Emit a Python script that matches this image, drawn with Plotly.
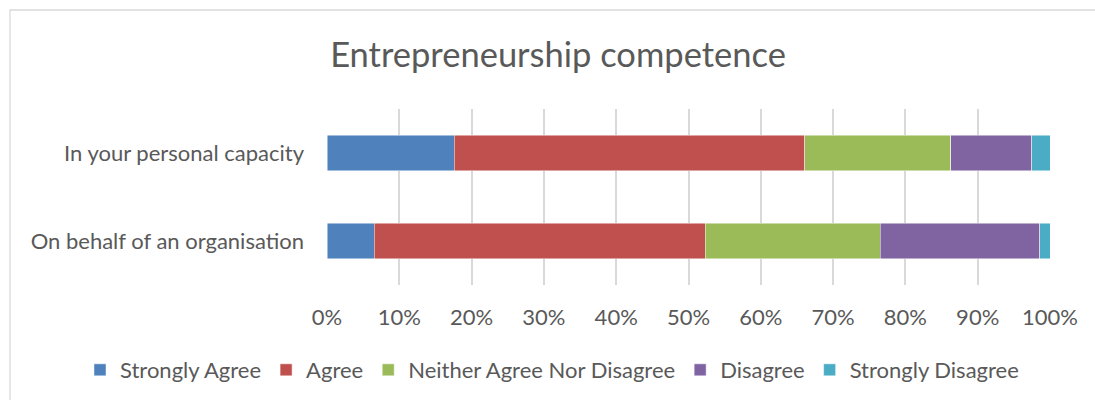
import plotly.graph_objects as go

# Survey responses (share of respondents, %)
categories = ["In your personal capacity", "On behalf of an organisation"]
series_names = ["Strongly Agree", "Agree", "Neither Agree Nor Disagree", "Disagree", "Strongly Disagree"]
strongly_agree = [17.6, 6.5]
agree = [48.5, 45.8]
neither = [20.2, 24.2]
disagree = [11.2, 22.1]
strongly_disagree = [2.5, 1.4]
tick_values = [0, 10, 20, 30, 40, 50, 60, 70, 80, 90, 100]
tick_labels = ["0%", "10%", "20%", "30%", "40%", "50%", "60%", "70%", "80%", "90%", "100%"]

series_values = [strongly_agree, agree, neither, disagree, strongly_disagree]
colors = ["#4F81BD", "#C0504D", "#9BBB59", "#8064A2", "#4BACC6"]

FONT = "Lato, 'Open Sans', sans-serif"
W, H = 1095, 400
ML, MR, MT, MB = 327, 45, 109, 115

fig = go.Figure()
for name, vals, col in zip(series_names, series_values, colors):
    fig.add_trace(go.Bar(
        y=categories,
        x=vals,
        name=name,
        orientation="h",
        marker=dict(color=col, line=dict(color="rgba(255,255,255,0.6)", width=0.8)),
    ))

pw = W - ML - MR
ph = H - MT - MB
# light chart-area frame (top and left edges visible)
fig.add_shape(type="rect", xref="paper", yref="paper",
              x0=(10 - ML) / pw, x1=1.3, y0=-1.0, y1=(H - MB - 10) / ph,
              line=dict(color="#d9d9d9", width=1.3), fillcolor="rgba(0,0,0,0)", layer="below")

fig.update_layout(
    width=W, height=H,
    margin=dict(l=ML, r=MR, t=MT, b=MB, pad=0, autoexpand=False),
    barmode="stack",
    bargap=0.6,
    paper_bgcolor="white",
    plot_bgcolor="white",
    font=dict(family=FONT, color="#595959", size=22),
    title=dict(text="Entrepreneurship competence", x=558 / W, xanchor="center",
               y=1 - 55 / H, yanchor="middle",
               font=dict(family=FONT, size=34.5, color="#595959")),
    xaxis=dict(range=[0, 100], tickvals=tick_values, ticktext=tick_labels,
               showgrid=True, gridcolor="#d9d9d9", gridwidth=1.5,
               zeroline=False, showline=False, ticks="",
               ticklabelstandoff=17,
               tickfont=dict(family=FONT, size=22, color="#595959")),
    yaxis=dict(autorange="reversed", showgrid=False, zeroline=False,
               showline=False, ticks="", ticklabelstandoff=22,
               tickfont=dict(family=FONT, size=22, color="#595959")),
    legend=dict(orientation="h", x=(80 - ML) / pw, xref="paper", xanchor="left",
                y=-(370 - (H - MB)) / ph, yref="paper", yanchor="middle",
                font=dict(family=FONT, size=22, color="#595959"),
                itemwidth=30, traceorder="normal"),
    showlegend=True,
)

fig.write_html("out.html")
